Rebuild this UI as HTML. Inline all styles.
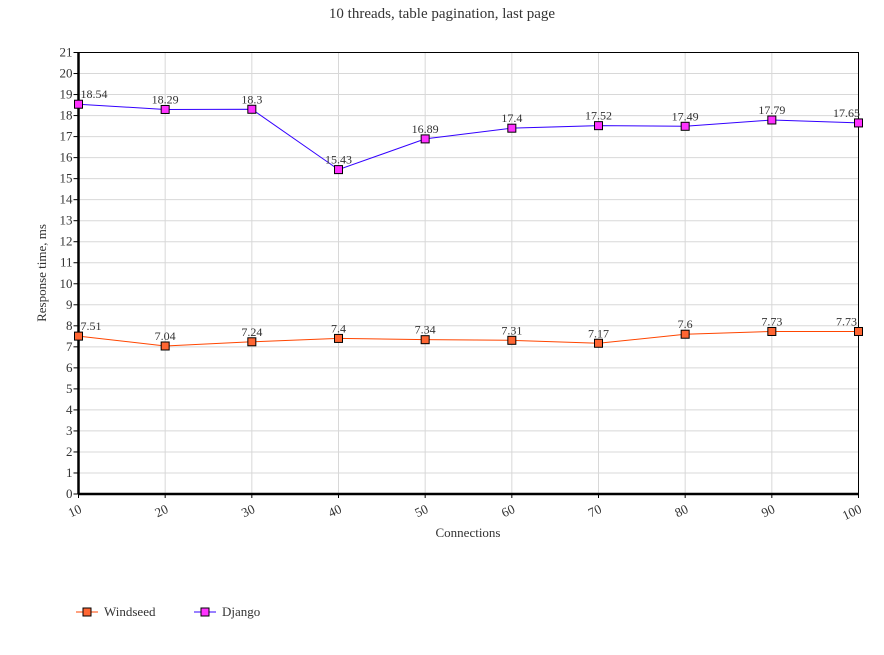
<!DOCTYPE html>
<html><head><meta charset="utf-8"><style>
body{margin:0;background:#fff;}
svg text{font-family:"Liberation Serif","DejaVu Serif",serif;fill:#333;}
</style></head><body>
<svg id="chart" width="884" height="650" xmlns="http://www.w3.org/2000/svg">
<text x="442" y="18" text-anchor="middle" font-size="15">10 threads, table pagination, last page</text>
<g id="grid"></g><g id="axes"></g><g id="series"></g>
<text x="468" y="537" text-anchor="middle" font-size="13">Connections</text>
<text transform="translate(46,273) rotate(-90)" text-anchor="middle" font-size="13">Response time, ms</text>
<g>
<g><line x1="76" y1="612" x2="98" y2="612" stroke="#ff4500"/><rect x="83" y="608" width="8" height="8" fill="#ff6633" stroke="#000"/><text x="104" y="616" font-size="13">Windseed</text></g>
<g><line x1="194" y1="612" x2="216" y2="612" stroke="#3300ff"/><rect x="201" y="608" width="8" height="8" fill="#ff33ff" stroke="#000"/><text x="222" y="616" font-size="13">Django</text></g>
</g>
</svg>
<script>
const categories=[10,20,30,40,50,60,70,80,90,100];
const windseed=[7.51,7.04,7.24,7.4,7.34,7.31,7.17,7.6,7.73,7.73];
const django=[18.54,18.29,18.3,15.43,16.89,17.4,17.52,17.49,17.79,17.65];
const yTicks=[0,1,2,3,4,5,6,7,8,9,10,11,12,13,14,15,16,17,18,19,20,21];
const NS="http://www.w3.org/2000/svg";
const L=78.5,R=858.5,T=52.5,B=494;
const xs=i=>L+(R-L)*i/(categories.length-1);
const ys=v=>B-(B-T)*v/21;
function mk(tag,attrs,parent,txt){const e=document.createElementNS(NS,tag);for(const k in attrs)e.setAttribute(k,attrs[k]);if(txt!==undefined)e.textContent=txt;parent.appendChild(e);return e;}
const grid=document.getElementById('grid'),axes=document.getElementById('axes'),ser=document.getElementById('series');
yTicks.forEach(v=>{const y=ys(v);
 const g=mk('line',{x1:L,x2:R,y1:y,y2:y,stroke:'#d8d8d8'},grid);
 
 
 mk('line',{x1:L-5,x2:L,y1:y,y2:y,stroke:'#000'},axes);
 const t=mk('text',{x:L-6,y:y+4,'text-anchor':'end','font-size':'13'},axes,v);
 
 
});
categories.forEach((c,i)=>{const x=xs(i);
 const g=mk('line',{x1:x,x2:x,y1:T,y2:B,stroke:'#d8d8d8'},grid);
 
 
 mk('line',{x1:x,x2:x,y1:B,y2:B+4,stroke:'#000'},axes);
 const t=mk('text',{transform:`translate(${x+4},${B+18}) rotate(-25)`,'text-anchor':'end','font-size':'13'},axes,c);
 
 
});
const frame=mk('rect',{x:L,y:T,width:R-L,height:B-T,fill:'none',stroke:'#000','stroke-width':1},axes);


mk('line',{x1:L,x2:L,y1:T,y2:B,stroke:'#000','stroke-width':2.5},axes);
mk('line',{x1:L,x2:R,y1:B,y2:B,stroke:'#000','stroke-width':2.5},axes);
function draw(vals,name,lc,fc){
 const pl=mk('polyline',{points:vals.map((v,i)=>xs(i)+','+ys(v)).join(' '),fill:'none',stroke:lc,'stroke-width':1},ser);
 
 
 vals.forEach((v,i)=>{const x=xs(i),y=ys(v);
  const r=mk('rect',{x:x-4,y:y-4,width:8,height:8,fill:fc,stroke:'#000'},ser);
  
  
  const tx=i===0?x+2:(i===vals.length-1?x-12:x);
  const t=mk('text',{x:tx,y:y-6,'text-anchor':i===0?'start':'middle','font-size':'12'},ser,v);
  
  
 });
}
draw(windseed,'windseed','#ff4500','#ff6633');
draw(django,'django','#3300ff','#ff33ff');
</script>
</body></html>
